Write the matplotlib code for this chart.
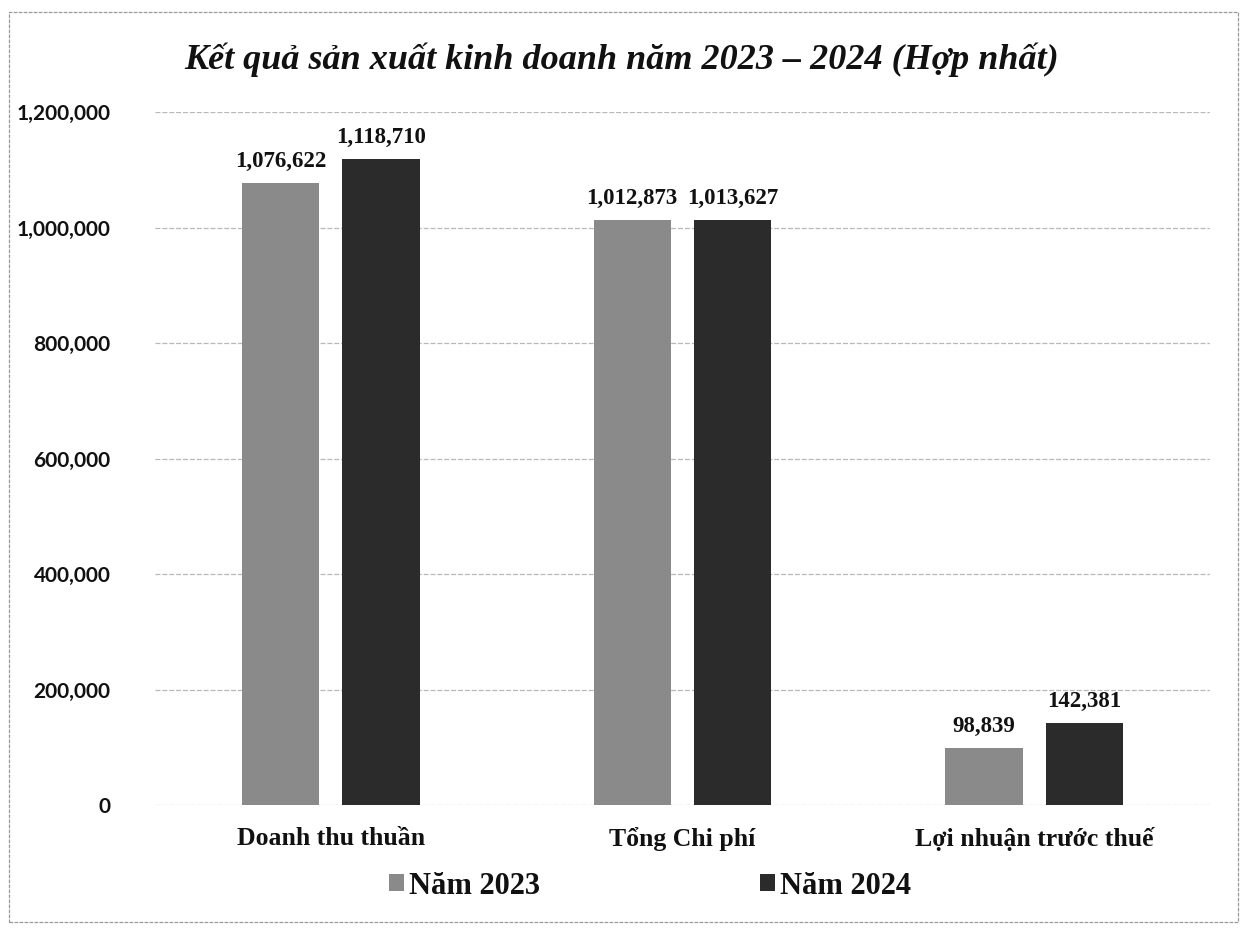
import matplotlib
matplotlib.use("Agg")
import matplotlib.pyplot as plt
import numpy as np
from matplotlib.patches import Rectangle

categories = ["Doanh thu thuần", "Tổng Chi phí", "Lợi nhuận trước thuế"]
series_names = ["Năm 2023", "Năm 2024"]
values_2023 = [1076622, 1012873, 98839]
values_2024 = [1118710, 1013627, 142381]
y_ticks = [0, 200000, 400000, 600000, 800000, 1000000, 1200000]
title = "Kết quả sản xuất kinh doanh năm 2023 – 2024 (Hợp nhất)"

W, H = 1245, 930
fig = plt.figure(figsize=(W / 100, H / 100), dpi=100)
fig.patch.set_facecolor("white")

ax = fig.add_axes([155 / W, 1 - 805 / H, (1210 - 155) / W, (805 - 112) / H])
serif = ["Liberation Serif", "DejaVu Serif"]
sans = ["Lato", "Liberation Sans", "DejaVu Sans"]

x = np.arange(len(categories))
bw = 0.22
off = 0.143
colors = ["#8a8a8a", "#2b2b2b"]
b1 = ax.bar(x - off, values_2023, bw, color=colors[0], label=series_names[0], zorder=3)
b2 = ax.bar(x + off, values_2024, bw, color=colors[1], label=series_names[1], zorder=3)

for bars, vals in ((b1, values_2023), (b2, values_2024)):
    for r, v in zip(bars, vals):
        ax.annotate(f"{v:,}", (r.get_x() + r.get_width() / 2, v), xytext=(0, 8),
                    textcoords="offset points", ha="center", va="bottom",
                    fontsize=16.5, fontweight="bold", family=serif, color="#111111")

ax.set_ylim(0, 1200000)
ax.set_xlim(-0.5, 2.5)
ax.set_yticks(y_ticks)
ax.set_yticklabels([f"{t:,}" for t in y_ticks], fontsize=15, fontweight="bold",
                   family=sans, color="#111111")
ax.set_xticks(x)
ax.set_xticklabels(categories, fontsize=18.5, fontweight="bold", family=serif, color="#111111")
ax.tick_params(axis="both", length=0)
ax.tick_params(axis="y", pad=32)
ax.tick_params(axis="x", pad=16)
ax.grid(axis="y", color="#b8b8b8", linewidth=0.9, linestyle=(0, (4, 1.5)), zorder=0)
for s in ax.spines.values():
    s.set_visible(False)

fig.text(622 / W, 1 - 60 / H, title, ha="center", va="center", fontsize=26,
         fontweight="bold", fontstyle="italic", family=serif, color="#111111")

leg = fig.legend(handles=[b1, b2], loc="center", bbox_to_anchor=(650 / W, 1 - 886 / H),
                 ncol=2, frameon=False, prop={"family": serif, "weight": "bold", "size": 22},
                 handlelength=0.5, handleheight=0.5, handletextpad=0.15, columnspacing=7.2)
for t in leg.get_texts():
    t.set_color("#111111")

fig.patches.append(Rectangle((9 / W, 1 - 922 / H), (1238 - 9) / W, (922 - 12) / H,
                             transform=fig.transFigure, fill=False, edgecolor="#9a9a9a",
                             linewidth=0.9, linestyle=(0, (3, 1))))

fig.savefig("out.png", dpi=100, facecolor="white")
